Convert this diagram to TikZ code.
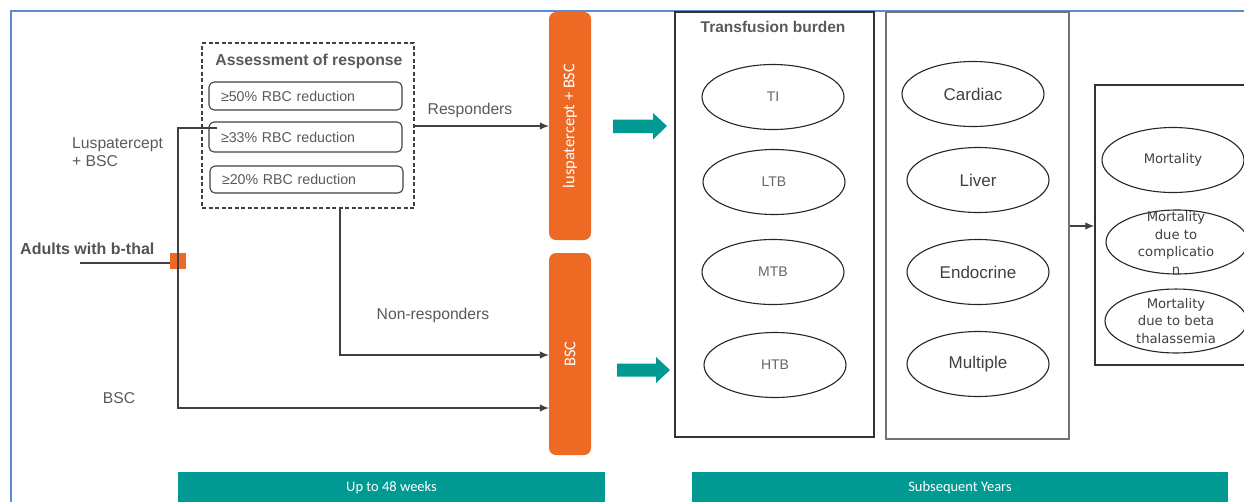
\documentclass[tikz,border=0pt]{standalone}
\usepackage{fontspec}
\setmainfont{Liberation Sans}
\newfontfamily\carl{Carlito}
\newfontfamily\dvs{DejaVu Sans}
\usetikzlibrary{arrows.meta,shapes.geometric}
\definecolor{txtgray}{HTML}{595959}
\definecolor{dgray}{HTML}{404040}
\definecolor{orng}{HTML}{EE6A24}
\definecolor{tealc}{HTML}{009A93}
\definecolor{frameblue}{HTML}{5B8BD0}
\tikzset{
  lbl/.style={text=txtgray, font=\fontsize{15.7}{18}\selectfont, inner sep=0},
  critbox/.style={draw=dgray, line width=1.1pt, rounded corners=5pt, minimum width=193pt, text=txtgray, font=\fontsize{14.2}{16}\selectfont, text width=169pt, align=left, inner sep=0},
  armbox/.style={fill=orng, rounded corners=7pt, minimum width=42pt, inner sep=0, text=white, font=\carl\fontsize{16.5}{19}\selectfont},
  ell/.style={draw=black!85, ellipse, line width=1.1pt, minimum width=142pt, minimum height=65pt, inner sep=0},
  elltb/.style={ell, text=black!60, font=\fontsize{14}{16}\selectfont},
  ellorg/.style={ell, text=dgray, font=\fontsize{17}{20}\selectfont},
  ellmort/.style={ell, text=dgray, font=\dvs\fontsize{13.2}{17.5}\selectfont, align=center},
  conn/.style={draw=dgray, line width=1.1pt},
  arr/.style={conn, -{Latex[length=9pt,width=7.5pt]}},
  bar/.style={fill=tealc, inner sep=0, text=white, font=\carl\fontsize{14.5}{17}\selectfont},
}
\begin{document}
\begin{tikzpicture}[x=1pt,y=-1pt]
\useasboundingbox (0,0) rectangle (1244,501);
\clip (0,0) rectangle (1244,501);
% frame
\draw[frameblue, line width=2pt] (10.5,520) -- (10.5,10.5) -- (1260,10.5);
% start
\node[anchor=west, text=dgray!90, font=\bfseries\fontsize{16}{19}\selectfont, inner sep=0] (adults) at (20,249) {Adults with b-thal};
\coordinate (start) at (80,263);
\node[fill=orng, minimum size=16pt, inner sep=0] (rand) at (178,261) {};
\draw[conn] (start) -- (rand.west |- start);
% labels
\node[lbl, anchor=west, align=left] (luspalbl) at (72,152) {Luspatercept\\+ BSC};
\node[lbl] (bsclbl) at (119,398) {BSC};
\node[lbl] (resplbl) at (470,110) {Responders};
\node[lbl] (nonresplbl) at (433,315) {Non-responders};
% assessment
\node[draw=dgray, dashed, dash pattern=on 4pt off 2.5pt, line width=1.3pt, minimum width=212pt, minimum height=165pt, inner sep=0] (assess) at (308,125.5) {};
\node[text=txtgray, font=\bfseries\fontsize{15.8}{18}\selectfont, inner sep=0] (assesstitle) at (309,61) {Assessment of response};
\node[critbox, minimum height=28pt] (c50) at (305.5,96) {≥50\% RBC reduction};
\node[critbox, minimum height=30pt] (c33) at (305.5,137) {≥33\% RBC reduction};
\node[critbox, minimum height=27pt] (c20) at (306.5,179.5) {≥20\% RBC reduction};
% arms
\node[armbox, minimum height=228pt] (arm1) at (570,126) {\rotatebox{90}{luspatercept + BSC}};
\node[armbox, minimum height=202pt] (arm2) at (570,354) {\rotatebox{90}{BSC}};
% connectors
\coordinate (c33in) at (217,128);
\draw[conn] (rand.center) |- (c33in);
\draw[arr] (rand.center) |- (arm2.west |- 0,408);
\draw[arr] (assess.east |- 0,126) -- (arm1.west |- 0,126);
\coordinate (assbot) at (340,208);
\draw[arr] (assbot) |- (arm2.west |- 0,355);
% teal block arrows
\fill[tealc] (613,119.5) -- (653,119.5) -- (653,113) -- (667,126) -- (653,139.5) -- (653,133) -- (613,133) -- cycle;
\fill[tealc] (617,363.5) -- (656,363.5) -- (656,357) -- (670,370) -- (656,383) -- (656,376.5) -- (617,376.5) -- cycle;
% transfusion burden
\node[draw=black!80, line width=1.5pt, minimum width=199pt, minimum height=425pt, inner sep=0] (tbbox) at (774.5,224.5) {};
\node[text=txtgray, font=\bfseries\fontsize{15.5}{18}\selectfont, inner sep=0] (tbtitle) at (773,27) {Transfusion burden};
\node[elltb] (ti) at (773,97) {TI};
\node[elltb] (ltb) at (774,182) {LTB};
\node[elltb] (mtb) at (773,272) {MTB};
\node[elltb] (htb) at (775,365) {HTB};
% organ box
\node[draw=black!55, line width=2pt, minimum width=183pt, minimum height=427pt, inner sep=0] (orgbox) at (977.5,225.5) {};
\node[ellorg] (cardiac) at (973,94) {Cardiac};
\node[ellorg] (liver) at (978,180) {Liver};
\node[ellorg] (endo) at (978,272) {Endocrine};
\node[ellorg] (multi) at (978,364) {Multiple};
% mortality box
\node[draw=black!80, line width=1.5pt, minimum width=175pt, minimum height=280pt, inner sep=0] (mortbox) at (1182.5,225) {};
\draw[arr] (orgbox.east |- 0,226) -- (mortbox.west |- 0,226);
\node[ellmort] (mort) at (1173,160) {Mortality};
\node[ellmort, minimum height=64pt] (mortcomp) at (1177,242) {};
\node[text=dgray, font=\dvs\fontsize{13.2}{17.5}\selectfont, align=center, inner sep=0] (mortcomptxt) at (1176,243) {Mortality\\due to\\complicatio\\n};
\node[ellmort, minimum height=62pt] (mortbeta) at (1176,321) {Mortality\\due to beta\\thalassemia};
% bottom bars
\node[bar, minimum width=427pt, minimum height=36pt] (bar1) at (391.5,490) {};
\node[text=white, font=\carl\fontsize{14.5}{17}\selectfont, inner sep=0] (bar1txt) at (391.5,488) {Up to 48 weeks};
\node[bar, minimum width=536pt, minimum height=36pt] (bar2) at (960,490) {};
\node[text=white, font=\carl\fontsize{14.5}{17}\selectfont, inner sep=0] (bar2txt) at (960,488) {Subsequent Years};
\end{tikzpicture}
\end{document}
